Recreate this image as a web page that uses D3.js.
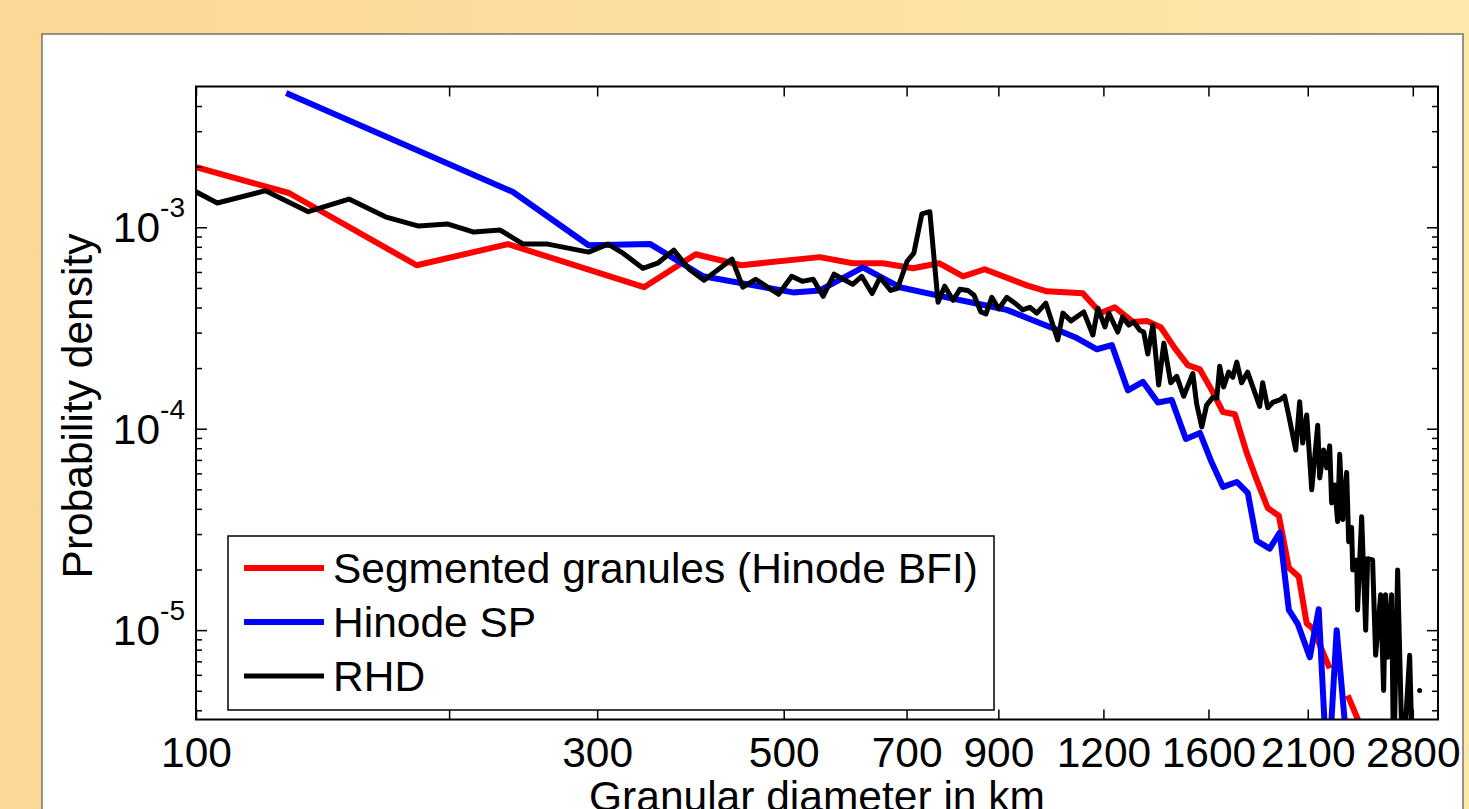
<!DOCTYPE html>
<html>
<head>
<meta charset="utf-8">
<script src="https://cdn.jsdelivr.net/npm/d3@7"></script>
<style>
  html, body { margin: 0; padding: 0; overflow: hidden; }
  body { width: 1469px; height: 809px; }
  text { font-family: "Liberation Sans", Arial, sans-serif; fill: #000; }
</style>
</head>
<body>
<div id="chart"></div>
<script>
// ejes y etiquetas
const xTicks = [100, 200, 300, 500, 700, 900, 1200, 1600, 2100, 2800];
const xTickLabels = ['100', '', '300', '500', '700', '900', '1200', '1600', '2100', '2800'];
const yMajor = [1e-3, 1e-4, 1e-5];
const yExponents = ['-3', '-4', '-5'];
const seriesNames = ['Segmented granules (Hinode BFI)', 'Hinode SP', 'RHD'];

// granulos segmentados (rojo), null = hueco
const segX = [100, 129, 183, 235, 341, 393, 445, 552, 604, 656, 712, 765, 817, 867, 973, 1028, 1134, 1191, 1238, 1301,
  1351, 1404, 1459, 1512, 1563, 1615, 1665, 1720, 1777, 1826, 1882, 1940, 1994, 2049, 2094, 2129, 2230, 2286, 2343, 2455];
const segY = [1.99e-3, 1.48e-3, 6.48e-4, 8.25e-4, 5.04e-4, 7.35e-4, 6.48e-4, 7.11e-4, 6.63e-4, 6.63e-4, 6.26e-4, 6.63e-4,
  5.71e-4, 6.19e-4, 5.15e-4, 4.81e-4, 4.70e-4, 3.75e-4, 4.01e-4, 3.39e-4, 3.43e-4, 3.19e-4, 2.51e-4, 2.07e-4, 1.97e-4,
  1.55e-4, 1.21e-4, 1.18e-4, 7.57e-5, 5.57e-5, 4.04e-5, 3.70e-5, 2.04e-5, 1.84e-5, 1.08e-5, 1.02e-5, 6.46e-6, null, 4.74e-6, 2.99e-6];

// Hinode SP (azul)
const spX = [128, 238, 293, 347, 401, 513, 552, 621, 687, 771, 856, 921, 1008, 1053, 1116, 1179, 1228, 1283, 1337, 1393,
  1447, 1504, 1563, 1615, 1665, 1729, 1782, 1826, 1892, 1945, 1994, 2044, 2112, 2164, 2218, 2273, 2343];
const spY = [4.64e-3, 1.50e-3, 8.15e-4, 8.25e-4, 5.71e-4, 4.75e-4, 4.86e-4, 6.33e-4, 5.04e-4, 4.54e-4, 4.15e-4, 3.89e-4,
  3.35e-4, 3.12e-4, 2.82e-4, 2.48e-4, 2.60e-4, 1.55e-4, 1.71e-4, 1.35e-4, 1.39e-4, 8.90e-5, 9.53e-5, 6.77e-5, 5.14e-5,
  5.44e-5, 4.80e-5, 2.78e-5, 2.54e-5, 3.05e-5, 1.26e-5, 1.07e-5, 7.33e-6, 1.27e-5, 1.7e-6, 1.0e-5, 2.4e-6];

// simulacion RHD (negro), null = hueco
const rhdX = [100, 106, 121, 136, 152, 168, 184, 199, 214, 230,
  245, 262, 293, 309, 322, 340, 354, 370, 386, 402,
  434, 447, 463, 493, 511, 526, 542, 557, 574, 604,
  619, 637, 651, 670, 683, 701, 714, 730, 746, 763,
  777, 795, 810, 828, 842, 858, 870, 884, 901, 921,
  942, 962, 981, 1000, 1025, 1059, 1074, 1098, 1137, 1166,
  1182, 1205, 1218, 1248, 1265, 1286, 1304, 1326, 1340, 1355,
  1374, 1396, 1416, 1443, 1467, 1495, 1533, 1549, 1571, 1592,
  1619, 1637, 1650, 1668, 1691, 1710, 1729, 1752, 1781, 1841,
  1856, 1882, 1908, 1945, 1971, 1993, 2032, 2054, 2071, 2094,
  2123, 2158, 2170, 2193, 2212, 2230, 2242, 2260, 2279, 2292,
  2311, 2336, 2349, 2368, 2375, 2401, 2407, 2434, 2461, 2474,
  2508, 2529, 2564, 2585, 2599, 2613, 2642, 2657, 2686, 2723,
  2776, 2799, 2826, 2853];
const rhdY = [1.50e-3, 1.32e-3, 1.52e-3, 1.195e-3, 1.38e-3, 1.127e-3, 1.014e-3, 1.039e-3, 9.47e-4, 9.69e-4,
  8.25e-4, 8.25e-4, 7.53e-4, 8.25e-4, 7.44e-4, 6.26e-4, 6.63e-4, 7.70e-4, 6.19e-4, 5.46e-4,
  6.95e-4, 5.04e-4, 5.52e-4, 4.65e-4, 5.71e-4, 5.39e-4, 5.52e-4, 4.54e-4, 5.85e-4, 5.21e-4,
  5.71e-4, 4.69e-4, 5.64e-4, 4.86e-4, 4.98e-4, 6.78e-4, 7.44e-4, 1.166e-3, 1.195e-3, 4.24e-4,
  5.10e-4, 4.34e-4, 4.92e-4, 4.86e-4, 4.60e-4, 3.80e-4, 3.71e-4, 4.49e-4, 3.93e-4, 4.49e-4,
  4.20e-4, 3.89e-4, 4.01e-4, 3.75e-4, 4.20e-4, 2.76e-4, 3.75e-4, 3.43e-4, 3.80e-4, 2.92e-4,
  3.97e-4, 3.20e-4, 3.75e-4, 3.02e-4, 3.59e-4, 3.27e-4, 3.39e-4, 3.08e-4, 3.02e-4, 2.35e-4,
  3.27e-4, 1.65e-4, 2.66e-4, 1.69e-4, 1.82e-4, 1.45e-4, 1.88e-4, 1.33e-4, 1.02e-4, 1.31e-4,
  1.43e-4, 1.42e-4, 2.04e-4, 1.61e-4, 1.91e-4, 1.80e-4, 2.14e-4, 1.69e-4, 1.91e-4, 1.29e-4,
  1.69e-4, 1.27e-4, 1.35e-4, 1.39e-4, 1.45e-4, 1.17e-4, 7.84e-5, 1.36e-4, 8.49e-5, 1.17e-4,
  4.97e-5, 1.04e-4, 5.70e-5, 7.84e-5, 6.39e-5, 8.22e-5, 4.28e-5, 5.26e-5, 3.46e-5, 7.46e-5,
  3.54e-5, 6.07e-5, 2.75e-5, 3.23e-5, 1.99e-5, 2.23e-5, 1.26e-5, 3.66e-5, 1.00e-5, 2.26e-5,
  2.23e-5, 7.50e-6, 1.50e-5, 5.02e-6, 1.50e-5, 7.33e-6, 1.50e-5, 2.0e-6, 1.99e-5, 2.0e-6,
  7.50e-6, 2.0e-6, null, 5.02e-6];

const width = 1469;
const height = 809;
const plot = { left: 196, top: 86.5, right: 1438, bottom: 719.5 };
const fontSize = 42.5;

const zip = (xs, ys) => xs.map((d, i) => ({ x: d, y: ys[i] }));
const series = [
  { name: seriesNames[0], color: '#ff0000', width: 6, data: zip(segX, segY) },
  { name: seriesNames[1], color: '#0000ff', width: 6, data: zip(spX, spY) },
  { name: seriesNames[2], color: '#000000', width: 5, data: zip(rhdX, rhdY) }
];

const x = d3.scaleLog().domain([100, 3000]).range([plot.left, plot.right]);
const y = d3.scaleLog().domain([3.6e-6, 5e-3]).range([plot.bottom, plot.top]);

// ticks menores del eje y (2..9 por decada)
const yMinor = [];
[-6, -5, -4, -3].forEach(e => {
  for (let k = 2; k <= 9; k++) {
    const v = k * Math.pow(10, e);
    if (v > y.domain()[0] && v < y.domain()[1]) yMinor.push(v);
  }
});

const svg = d3.select('#chart')
  .append('svg')
  .attr('width', width)
  .attr('height', height);

// fondo naranja y panel blanco
const grad = svg.append('defs').append('linearGradient')
  .attr('id', 'bg')
  .attr('x1', 0).attr('x2', 1).attr('y1', 0).attr('y2', 0);
grad.append('stop').attr('offset', 0).attr('stop-color', '#fcd796');
grad.append('stop').attr('offset', 1).attr('stop-color', '#fde8aa');

svg.append('rect')
  .attr('width', width)
  .attr('height', height)
  .attr('fill', 'url(#bg)');

svg.append('rect')
  .attr('x', 42)
  .attr('y', 34)
  .attr('width', 1421)
  .attr('height', 800)
  .attr('fill', '#fff')
  .attr('stroke', '#77736a')
  .attr('stroke-width', 1.5);

svg.select('defs').append('clipPath')
  .attr('id', 'clip')
  .append('rect')
  .attr('x', plot.left)
  .attr('y', plot.top)
  .attr('width', plot.right - plot.left)
  .attr('height', plot.bottom - plot.top);

// curvas
const line = d3.line()
  .defined(d => d.y != null)
  .x(d => x(d.x))
  .y(d => y(d.y));

const curves = svg.append('g').attr('clip-path', 'url(#clip)');

series.forEach(s => {
  curves.append('path')
    .datum(s.data)
    .attr('fill', 'none')
    .attr('stroke', s.color)
    .attr('stroke-width', s.width)
    .attr('stroke-linejoin', 'round')
    .attr('d', line);

  // puntos aislados entre huecos
  const lonely = s.data.filter((d, i, a) => d.y != null &&
    (i === 0 || a[i - 1].y == null) && (i === a.length - 1 || a[i + 1].y == null));
  curves.selectAll(null)
    .data(lonely)
    .join('circle')
    .attr('cx', d => x(d.x))
    .attr('cy', d => y(d.y))
    .attr('r', 2.5)
    .attr('fill', s.color);
});

// ejes
const styleAxis = g => {
  g.select('.domain').remove();
  g.selectAll('.tick line').attr('stroke', '#000').attr('stroke-width', 1.5);
  g.attr('font-family', null).attr('font-size', null);
};

svg.append('g')
  .attr('transform', `translate(0,${plot.bottom})`)
  .call(d3.axisBottom(x)
    .tickValues(xTicks)
    .tickFormat((d, i) => xTickLabels[i])
    .tickSizeInner(-10)
    .tickSizeOuter(0)
    .tickPadding(17))
  .call(styleAxis)
  .selectAll('text')
  .attr('font-size', fontSize)
  .attr('fill', '#000');

svg.append('g')
  .attr('transform', `translate(0,${plot.top})`)
  .call(d3.axisTop(x).tickValues(xTicks).tickFormat('').tickSizeInner(-10).tickSizeOuter(0))
  .call(styleAxis);

svg.append('g')
  .attr('transform', `translate(${plot.left},0)`)
  .call(d3.axisLeft(y).tickValues(yMajor).tickFormat('').tickSizeInner(-11).tickSizeOuter(0))
  .call(styleAxis);

svg.append('g')
  .attr('transform', `translate(${plot.left},0)`)
  .call(d3.axisLeft(y).tickValues(yMinor).tickFormat('').tickSizeInner(-6).tickSizeOuter(0))
  .call(styleAxis);

svg.append('g')
  .attr('transform', `translate(${plot.right},0)`)
  .call(d3.axisRight(y).tickValues(yMajor).tickFormat('').tickSizeInner(-11).tickSizeOuter(0))
  .call(styleAxis);

svg.append('g')
  .attr('transform', `translate(${plot.right},0)`)
  .call(d3.axisRight(y).tickValues(yMinor).tickFormat('').tickSizeInner(-6).tickSizeOuter(0))
  .call(styleAxis);

// etiquetas 10^n
const yLab = svg.append('g')
  .selectAll('text')
  .data(yMajor)
  .join('text')
  .attr('x', plot.left - 11)
  .attr('y', d => y(d) + 15)
  .attr('text-anchor', 'end')
  .attr('font-size', fontSize);
yLab.append('tspan').text('10');
yLab.append('tspan')
  .attr('dy', -25)
  .attr('font-size', 28)
  .text((d, i) => yExponents[i]);

// marco
svg.append('rect')
  .attr('x', plot.left)
  .attr('y', plot.top)
  .attr('width', plot.right - plot.left)
  .attr('height', plot.bottom - plot.top)
  .attr('fill', 'none')
  .attr('stroke', '#000')
  .attr('stroke-width', 2);

// titulos de ejes
svg.append('text')
  .attr('transform', `translate(92,406) rotate(-90)`)
  .attr('text-anchor', 'middle')
  .attr('font-size', fontSize)
  .text('Probability density');

svg.append('text')
  .attr('x', (plot.left + plot.right) / 2)
  .attr('y', 811)
  .attr('text-anchor', 'middle')
  .attr('font-size', fontSize)
  .text('Granular diameter in km');

// leyenda
const legend = svg.append('g').attr('transform', 'translate(228,536)');
legend.append('rect')
  .attr('width', 766)
  .attr('height', 174)
  .attr('fill', '#fff')
  .attr('stroke', '#000')
  .attr('stroke-width', 1.5);

const item = legend.selectAll('g.item')
  .data(series)
  .join('g')
  .attr('class', 'item')
  .attr('transform', (d, i) => `translate(0,${32 + i * 54})`);

item.append('line')
  .attr('x1', 16)
  .attr('x2', 96)
  .attr('stroke', d => d.color)
  .attr('stroke-width', d => d.width);

item.append('text')
  .attr('x', 105)
  .attr('y', 15)
  .attr('font-size', fontSize)
  .text(d => d.name);
</script>
</body>
</html>
